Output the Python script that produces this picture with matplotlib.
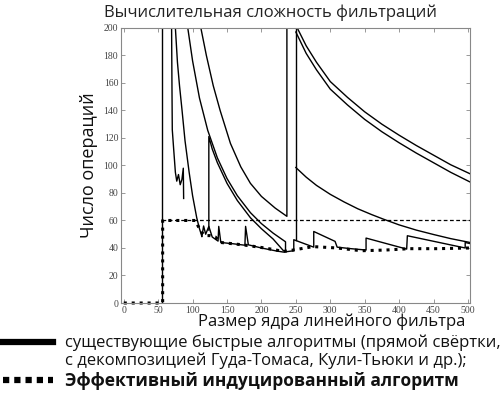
import numpy as np
import matplotlib
matplotlib.use('Agg')
import matplotlib.pyplot as plt
from matplotlib.lines import Line2D

plt.rcParams['font.family'] = ['Open Sans', 'DejaVu Sans']

# vertical jump of all algorithms at the smallest kernel size
vert_x = [56, 56]
vert_y = [0, 200]

# jagged curve near the left edge
jag_x = [69.5, 70, 70.5, 72.5, 75, 77, 79.5, 82, 84.5, 86.5, 87]
jag_y = [200, 160, 126, 112, 95, 88.6, 93.4, 86, 89.8, 98, 76]

# steep curve A
a_x = [75, 78, 81, 84.5, 89, 95, 100, 106, 110, 113.5]
a_y = [200, 175, 158, 141, 118, 95, 78, 62, 54, 48.4]

# upper of the parallel pair (enters from the top)
pb_x = [93, 100, 110, 122, 136, 150, 165, 184, 200, 217, 235, 235]
pb_y = [200, 176, 149, 125.5, 105.5, 90.5, 78, 65.7, 57.7, 50.8, 44.5, 37.5]

# lower of the pair (starts at the spike near 124)
pa_x = [123.6, 123.6, 128.5, 136, 150, 165, 184, 200, 217, 232]
pa_y = [53, 121, 112, 102, 87, 74.5, 62, 54, 46.5, 38]

# highest curve of the middle group, jumps up near 237
s5_x = [112, 120, 130, 140, 155, 170, 184, 200, 220, 237, 237]
s5_y = [200, 180, 158, 140, 116, 99, 87, 77.5, 69, 63, 200]

# sawtooth along the bottom
saw_x = [113.5, 116, 119, 123.6, 128.5, 137, 138, 141, 160, 176, 177, 181, 200,
         220, 232, 247, 247, 276, 276, 307, 310, 330, 352, 352, 411, 412, 496, 496, 505]
saw_y = [48.4, 56, 50, 55.7, 48, 45, 55.7, 44, 43, 42, 55.7, 42.3, 40,
         38, 37, 38, 46, 40.6, 52, 44.8, 40.6, 39.5, 38.5, 47.2, 39.2, 48.9, 40, 44, 43]

# vertical at 250 and the curves starting from it
v2_x = [250, 250]
v2_y = [46, 200]
u1_x = [252, 265, 280, 300, 325, 350, 375, 400, 425, 450, 475, 505]
u1_y = [200, 187, 175, 161, 149.5, 139, 130, 122, 114.5, 107.5, 100.5, 93.5]
u2_x = [250, 265, 280, 300, 325, 350, 375, 400, 425, 450, 475, 505]
u2_y = [197, 181.5, 169.5, 155.5, 144, 133.5, 124.5, 116.5, 109, 102, 95, 87.5]
l_x = [250, 265, 280, 300, 320, 340, 360, 377, 400, 425, 450, 475, 505]
l_y = [98.5, 91.5, 85.5, 79, 73.5, 68.5, 64.3, 61, 56.8, 53, 49.8, 46.8, 43.8]

# dashed reference level
dash_x = [56, 505]
dash_y = [60, 60]

# effective induced algorithm (dotted)
eff_x = [0, 56.5, 56.5, 104, 112, 118, 125, 133, 141, 160, 177, 205, 232,
         246, 275, 310, 345, 380, 415, 455, 503]
eff_y = [0, 0, 60, 60, 52, 49, 49, 48, 44, 43, 42, 40, 37.5,
         38.5, 41, 40, 38, 38.5, 39.5, 39.5, 40]

xticks = [0, 50, 100, 150, 200, 250, 300, 350, 400, 450, 500]
yticks = [0, 20, 40, 60, 80, 100, 120, 140, 160, 180, 200]

fig = plt.figure(figsize=(5.0, 3.93), dpi=100)
ax = fig.add_axes([0.242, 0.229, 0.698, 0.700])

for xs, ys in [(vert_x, vert_y), (jag_x, jag_y), (a_x, a_y), (pb_x, pb_y),
               (pa_x, pa_y), (s5_x, s5_y), (saw_x, saw_y), (v2_x, v2_y),
               (u1_x, u1_y), (u2_x, u2_y), (l_x, l_y)]:
    ax.plot(xs, ys, color='black', lw=1.0)

ax.plot(dash_x, dash_y, color='black', lw=0.9, linestyle=(0, (3, 2)))
ax.plot(eff_x, eff_y, color='black', lw=2.2, linestyle=(0, (1, 1.6)), clip_on=False)

ax.set_xlim(-4, 503)
ax.set_ylim(0, 200)
ax.set_xticks(xticks)
ax.set_yticks(yticks)
ax.tick_params(direction='in', length=3, width=0.6, colors='#888888',
               top=True, right=True, labelsize=7, labelcolor='#444444', pad=2)
for lab in ax.get_xticklabels() + ax.get_yticklabels():
    lab.set_family('Liberation Serif')
for s in ax.spines.values():
    s.set_color('#888888')
    s.set_linewidth(0.8)

fig.text(0.542, 0.968, 'Вычислительная сложность фильтраций', ha='center', va='center',
         fontsize=12, color='#222222')
fig.text(0.178, 0.58, 'Число операций', rotation=90, ha='center', va='center',
         fontsize=13, color='#111111')
fig.text(0.93, 0.181, 'Размер ядра линейного фильтра', ha='right', va='center',
         fontsize=12, color='#111111')

fig.add_artist(Line2D([0.0, 0.105], [0.13, 0.13], color='black', lw=4.5,
                      transform=fig.transFigure))
fig.add_artist(Line2D([0.005, 0.105], [0.033, 0.033], color='black', lw=4.5,
                      linestyle=(0, (1, 0.8)), transform=fig.transFigure))
fig.text(0.13, 0.128, 'существующие быстрые алгоритмы (прямой свёртки,', ha='left',
         va='center', fontsize=12, color='#111111')
fig.text(0.13, 0.081, 'с декомпозицией Гуда-Томаса, Кули-Тьюки и др.);', ha='left',
         va='center', fontsize=12, color='#111111')
fig.text(0.13, 0.031, 'Эффективный индуцированный алгоритм', ha='left',
         va='center', fontsize=12.5, fontweight='bold', color='#111111')

fig.savefig('out.png', dpi=100)
